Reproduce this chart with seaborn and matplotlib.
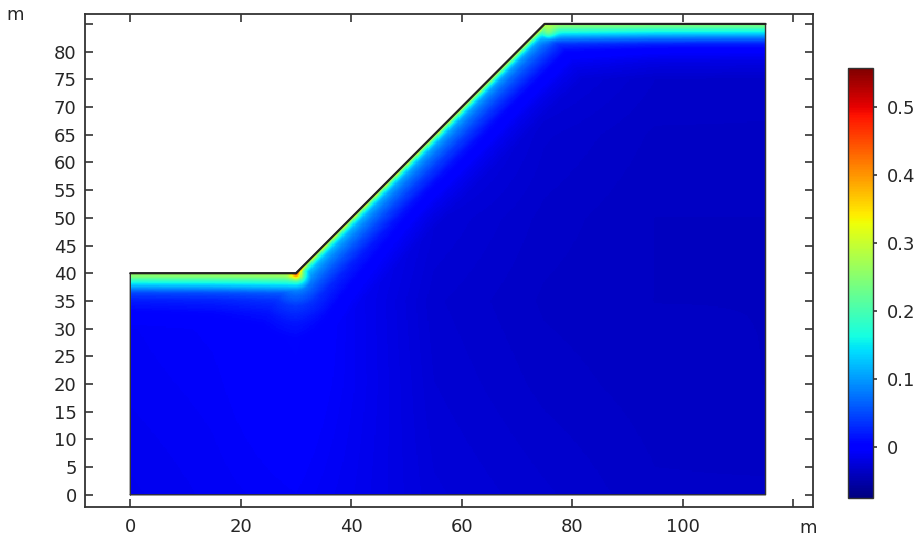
import numpy as np
import seaborn as sns
import matplotlib.pyplot as plt

sns.set_style('ticks')
plt.rcParams['font.family'] = ['DejaVu Sans']

# ground surface and model boundary (m)
surface_x = [0, 30, 75, 115]
surface_y = [40, 40, 85, 85]
boundary_x = [0, 0, 30, 75, 115, 115, 0]
boundary_y = [0, 40, 40, 85, 85, 0, 0]

# rise above background vs depth under the flat ground
flat_depth = [0, 0.6, 1.2, 1.8, 2.4, 3.0, 3.6, 4.8, 7.0, 10.0]
flat_rise = [0.28, 0.25, 0.20, 0.16, 0.12, 0.085, 0.055, 0.03, 0.012, 0.0]

# rise above background vs depth under the slope face
slope_depth = [0, 0.3, 0.6, 1.0, 1.5, 2.5, 4.0, 6.0, 9.0, 12.0]
slope_rise = [0.34, 0.28, 0.21, 0.16, 0.12, 0.09, 0.06, 0.03, 0.01, 0.0]

# background value on a coarse grid (rows = base_y, cols = base_x)
base_x = [0, 15, 30, 40, 55, 75, 95, 115]
base_y = [0, 20, 35, 50, 65, 85]
base_vals = [
    [-0.014, -0.010, -0.006, -0.013, -0.025, -0.030, -0.035, -0.035],
    [-0.010, -0.007, 0.002, -0.010, -0.028, -0.034, -0.037, -0.038],
    [-0.008, -0.004, 0.008, -0.010, -0.030, -0.036, -0.038, -0.038],
    [-0.008, -0.004, 0.000, -0.004, -0.025, -0.034, -0.038, -0.038],
    [-0.008, -0.004, 0.000, -0.004, -0.010, -0.030, -0.036, -0.036],
    [-0.008, -0.004, 0.000, -0.004, -0.010, -0.015, -0.030, -0.032],
]

# local peaks at the toe and the crest
peak_x = [30, 75.7]
peak_y = [40, 83.4]
peak_amp = [0.16, 0.07]
peak_r = [1.0, 1.3]

cb_min, cb_max = -0.075, 0.557
cb_ticks = [0, 0.1, 0.2, 0.3, 0.4, 0.5]
cb_labels = ['0', '0.1', '0.2', '0.3', '0.4', '0.5']
x_ticks = [0, 20, 40, 60, 80, 100, 120]
y_ticks = list(range(0, 90, 5))

# build the field on a regular grid
dx = 0.2
xc = np.arange(0, 115, dx) + dx / 2
yc = np.arange(0, 85, dx) + dx / 2
X, Y = np.meshgrid(xc, yc)


def seg_dist(px, py, x0, y0, x1, y1):
    vx, vy = x1 - x0, y1 - y0
    t = np.clip(((px - x0) * vx + (py - y0) * vy) / (vx * vx + vy * vy), 0, 1)
    return np.hypot(px - (x0 + t * vx), py - (y0 + t * vy))


sx, sy = surface_x, surface_y
d_flat = np.minimum(seg_dist(X, Y, sx[0], sy[0], sx[1], sy[1]),
                    seg_dist(X, Y, sx[2], sy[2], sx[3], sy[3]))
d_slope = seg_dist(X, Y, sx[1], sy[1], sx[2], sy[2])
rise = np.maximum(np.interp(d_flat, flat_depth, flat_rise),
                  np.interp(d_slope, slope_depth, slope_rise))

rows = np.array([np.interp(xc, base_x, r) for r in base_vals])
base = np.column_stack([np.interp(yc, base_y, rows[:, i])
                        for i in range(len(xc))])

field = base + rise
for px, py, a, r in zip(peak_x, peak_y, peak_amp, peak_r):
    field += a * np.exp(-((X - px) ** 2 + (Y - py) ** 2) / r ** 2)

mask = Y > np.interp(X, surface_x, surface_y)

fig = plt.figure(figsize=(9.19, 5.37), dpi=100)
ax = fig.add_axes([0.0925, 0.0559, 0.7922, 0.9181])
cax = fig.add_axes([0.9227, 0.0726, 0.0272, 0.8007])

sns.heatmap(field, mask=mask, cmap='jet', vmin=cb_min, vmax=cb_max,
            ax=ax, cbar_ax=cax, xticklabels=False, yticklabels=False,
            cbar_kws={'ticks': cb_ticks})

ax.set_xlim(-8.2 / dx, 123.6 / dx)
ax.set_ylim(-2.2 / dx, 86.8 / dx)

ax.plot(np.array(boundary_x) / dx, np.array(boundary_y) / dx,
        color='#333333', lw=1.0)
ax.plot(np.array(surface_x) / dx, np.array(surface_y) / dx,
        color='#222222', lw=1.6, solid_joinstyle='round')

for s in ax.spines.values():
    s.set_visible(True)
    s.set_color('#333333')
    s.set_linewidth(1.3)

ax.set_xticks([v / dx for v in x_ticks])
ax.set_xticklabels([str(v) if v < 120 else '' for v in x_ticks])
ax.set_yticks([v / dx for v in y_ticks])
ax.set_yticklabels([str(v) if v < 85 else '' for v in y_ticks], rotation=0)
ax.tick_params(axis='both', direction='in', top=True, right=True,
               length=6, width=1.2, color='#333333', labelsize=13)
ax.tick_params(axis='x', pad=8)
ax.tick_params(axis='y', pad=6)
ax.set_xlabel('')
ax.set_ylabel('')

cb = ax.collections[0].colorbar
cb.outline.set_linewidth(1.0)
cb.outline.set_edgecolor('#333333')
cax.set_yticklabels(cb_labels)
cax.tick_params(direction='inout', length=6, width=1.2, color='#333333',
                labelsize=13, pad=7)

fig.text(15 / 919, 1 - 15 / 537, 'm', fontsize=13, ha='center', va='center')
fig.text(808 / 919, 1 - 528 / 537, 'm', fontsize=13, ha='center', va='center')

fig.savefig('out.png', dpi=100)
